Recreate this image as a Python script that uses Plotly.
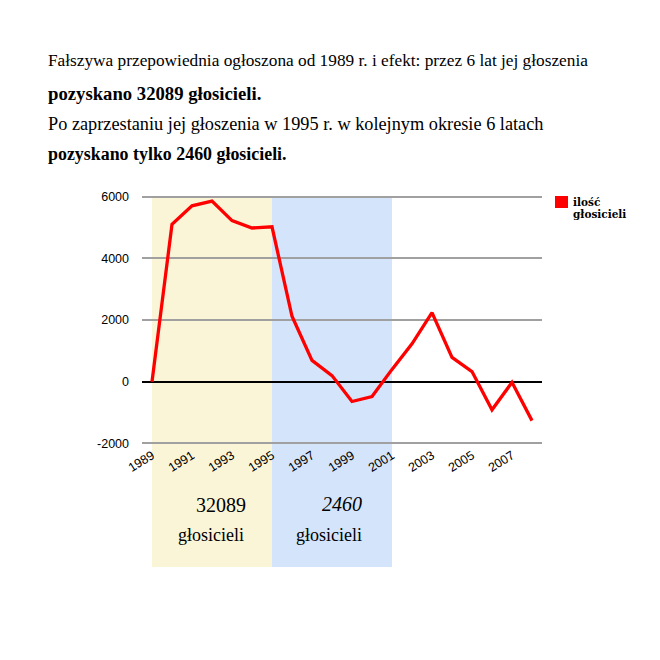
import plotly.graph_objects as go

years = list(range(1989, 2009))
values = [0, 5100, 5700, 5850, 5220, 4980, 5020, 2120, 690, 200, -640, -480,
          400, 1230, 2240, 790, 330, -910, -20, -1260]
tick_years = list(range(1989, 2009, 2))
y_ticks = [-2000, 0, 2000, 4000, 6000]
y_tick_text = ["-2000", "0", "2000", "4000", "6000"]
period1 = (1989, 1995)
period2 = (1995, 2001)
series_name = "ilość<br>głosicieli"

title_lines = [
    "Fałszywa przepowiednia ogłoszona od 1989 r. i efekt: przez 6 lat jej głoszenia",
    "<b>pozyskano 32089 głosicieli.</b>",
    "Po zaprzestaniu jej głoszenia w 1995 r. w kolejnym okresie 6 latach",
    "<b>pozyskano tylko 2460 głosicieli.</b>",
]

# page offset (body margin) and plot area in reference pixels
OFF = 8
L, R, T, B = 142, 542, 195, 445
W, H = 660, 660
pw, ph = R - L, B - T

def px_x(p):
    return (p - L) / pw

def px_y(p):
    return (B - p) / ph

fig = go.Figure()

fig.add_trace(go.Scatter(
    x=years, y=values, mode="lines", name=series_name,
    line=dict(color="#ff0000", width=3.3),
    showlegend=False, hoverinfo="skip"))

shapes = [
    dict(type="rect", xref="x", yref="paper", x0=period1[0], x1=period1[1],
         y0=px_y(567), y1=px_y(196), fillcolor="#fbf5d8", line_width=0, layer="below"),
    dict(type="rect", xref="x", yref="paper", x0=period2[0], x1=period2[1],
         y0=px_y(567), y1=px_y(196), fillcolor="#d4e4fa", line_width=0, layer="below"),
    # legend swatch
    dict(type="rect", xref="paper", yref="paper", x0=px_x(555), x1=px_x(568),
         y0=px_y(208), y1=px_y(196), fillcolor="#ff0000", line_width=0),
]

annotations = []
title_y = [60, 93, 124, 154]
title_sizes = [17.3, 18.7, 18.3, 17.9]
for txt, yp, fs in zip(title_lines, title_y, title_sizes):
    annotations.append(dict(
        text=txt, xref="paper", yref="paper", x=px_x(46), y=px_y(yp),
        xanchor="left", yanchor="middle", showarrow=False,
        font=dict(family="Liberation Serif", size=fs, color="#000")))

legend_lines = series_name.split("<br>")
for txt, yp in zip(legend_lines, [202, 214]):
    annotations.append(dict(
        text=txt, xref="paper", yref="paper", x=px_x(571), y=px_y(yp),
        xanchor="left", yanchor="middle", showarrow=False,
        font=dict(family="DejaVu Serif", size=10.5, color="#000", weight="bold")))

annotations += [
    dict(text="32089", xref="paper", yref="paper", x=px_x(221), y=px_y(505),
         xanchor="center", yanchor="middle", showarrow=False,
         font=dict(family="Liberation Serif", size=20, color="#000")),
    dict(text="głosicieli", xref="paper", yref="paper", x=px_x(211), y=px_y(535),
         xanchor="center", yanchor="middle", showarrow=False,
         font=dict(family="Liberation Serif", size=18, color="#000")),
    dict(text="<i>2460</i>", xref="paper", yref="paper", x=px_x(342), y=px_y(504),
         xanchor="center", yanchor="middle", showarrow=False,
         font=dict(family="Liberation Serif", size=20, color="#000")),
    dict(text="głosicieli", xref="paper", yref="paper", x=px_x(329), y=px_y(535),
         xanchor="center", yanchor="middle", showarrow=False,
         font=dict(family="Liberation Serif", size=18, color="#000")),
]

fig.update_layout(
    width=W, height=H,
    margin=dict(l=L - OFF, r=W - (R - OFF), t=T - OFF, b=H - (B - OFF), pad=0),
    paper_bgcolor="white", plot_bgcolor="rgba(0,0,0,0)",
    shapes=shapes, annotations=annotations, showlegend=False,
    xaxis=dict(range=[1988.5, 2008.5], tickvals=tick_years,
               ticktext=[str(y) for y in tick_years], tickangle=-32,
               showgrid=False, zeroline=False, showline=False, ticks="",
               tickfont=dict(family="Liberation Sans", size=12.5, color="#000"),
               fixedrange=True),
    yaxis=dict(range=[-2050, 6050], tickvals=y_ticks, ticktext=y_tick_text,
               showgrid=True, gridcolor="#a0a0a0", gridwidth=1.5,
               zeroline=True, zerolinecolor="#000", zerolinewidth=2,
               showline=False, ticks="", ticklabelstandoff=12,
               tickfont=dict(family="Liberation Sans", size=12.5, color="#000"),
               fixedrange=True),
)

fig.write_html("out.html")
